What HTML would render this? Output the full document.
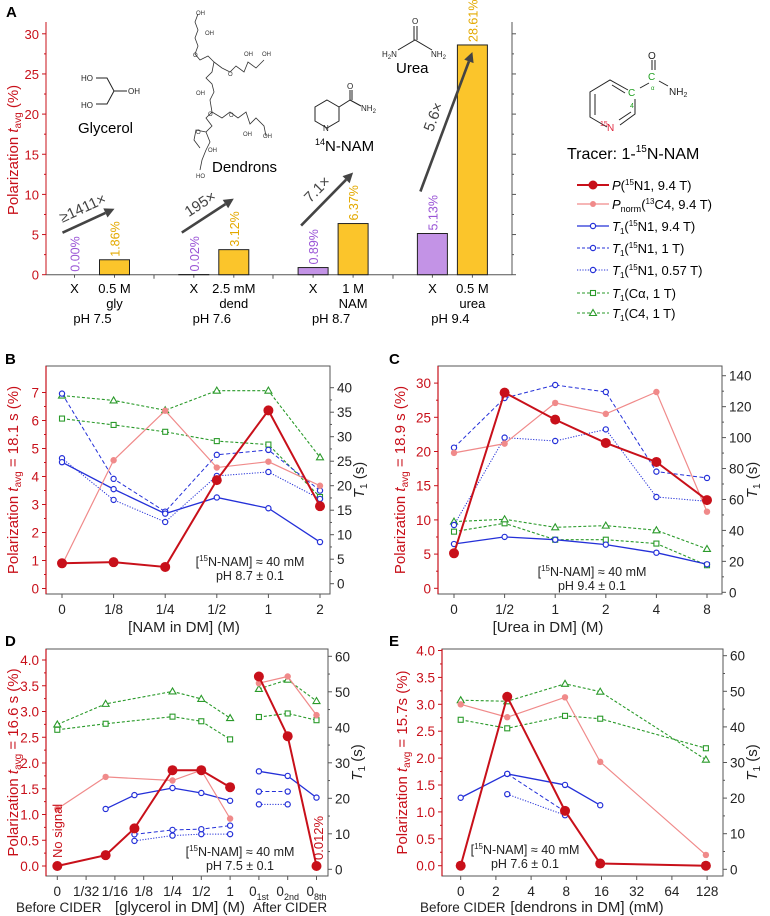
<!DOCTYPE html>
<html><head><meta charset="utf-8">
<style>
html,body{margin:0;padding:0;background:#fff;}
svg{display:block;font-family:"Liberation Sans",Arial,sans-serif;}
</style></head>
<body>
<svg id="fig" width="770" height="916" viewBox="0 0 770 916" xmlns="http://www.w3.org/2000/svg">
<!-- panel letters -->
<text x="6" y="17" font-size="15" font-weight="bold">A</text>
<text x="5" y="364" font-size="15" font-weight="bold">B</text>
<text x="389" y="364" font-size="15" font-weight="bold">C</text>
<text x="5" y="646" font-size="15" font-weight="bold">D</text>
<text x="389" y="646" font-size="15" font-weight="bold">E</text>

<!-- glycerol -->
<g stroke="#222" stroke-width="1" fill="none">
<polyline points="96,78 107,78 114,91 127,91"/><polyline points="114,91 107,104 96,104"/>
</g>
<g font-size="8" fill="#222">
<text x="81" y="81">HO</text><text x="128" y="94">OH</text><text x="81" y="108">HO</text></g>
<text x="78" y="133" font-size="15">Glycerol</text>

<!-- dendrons (simplified) -->
<g stroke="#333" stroke-width="0.8" fill="none">
<polyline points="198,14 195,22 198,30 195,38 198,46 195,54 200,60 208,56 214,62 212,72 206,78 212,84 214,92 210,100 212,112 206,118 212,126 206,132 210,142 206,150 202,160 200,170"/>
<polyline points="214,62 222,68 230,72 236,66 244,72 248,62 256,68 264,60"/>
<polyline points="212,112 222,118 230,112 238,118 246,112 250,124 256,118 264,126 266,136"/>
<polyline points="206,132 196,130 194,140 200,148"/>
</g>
<g font-size="6" fill="#333">
<text x="196" y="15">OH</text><text x="205" y="35">OH</text><text x="193" y="57">O</text><text x="228" y="76">O</text>
<text x="244" y="56">OH</text><text x="262" y="56">OH</text><text x="196" y="95">OH</text><text x="208" y="116">O</text>
<text x="229" y="117">O</text><text x="243" y="136">OH</text><text x="263" y="138">OH</text><text x="196" y="134">O</text>
<text x="208" y="152">OH</text><text x="196" y="178">HO</text></g>
<text x="212" y="172" font-size="15">Dendrons</text>

<!-- 14N-NAM -->
<g stroke="#222" stroke-width="1" fill="none">
<polygon points="327,100 339,107 339,121 327,128 315,121 315,107"/>
<polyline points="339,107 350,100 350,90"/><line x1="352" y1="100" x2="352" y2="90"/><line x1="350" y1="100" x2="361" y2="106"/>
</g>
<g font-size="8" fill="#222"><text x="347" y="89">O</text><text x="361" y="111">NH<tspan font-size="6" dy="2">2</tspan></text><text x="323" y="131" fill="#222">N</text></g>
<text x="315" y="151" font-size="15"><tspan font-size="9" dy="-6">14</tspan><tspan dy="6">N-NAM</tspan></text>

<!-- urea -->
<g stroke="#222" stroke-width="1" fill="none">
<line x1="414" y1="26" x2="414" y2="40"/><line x1="417" y1="26" x2="417" y2="40"/>
<polyline points="398,50 415,40 432,50"/></g>
<g font-size="8" fill="#222"><text x="412" y="24">O</text><text x="382" y="57">H<tspan font-size="6" dy="2">2</tspan><tspan dy="-2">N</tspan></text><text x="431" y="57">NH<tspan font-size="6" dy="2">2</tspan></text></g>
<text x="396" y="73" font-size="15">Urea</text>

<!-- tracer molecule -->
<g stroke="#222" stroke-width="1" fill="none">
<polyline points="607,127 590,117 590,92 610,80 628,90"/>
<line x1="595" y1="115" x2="595" y2="94"/><line x1="612" y1="85" x2="625" y2="93"/>
<polyline points="635,99 635,114 620,125"/><line x1="631" y1="112" x2="619" y2="120"/>
<line x1="640" y1="88" x2="649" y2="83"/><line x1="652" y1="70" x2="652" y2="60"/><line x1="655" y1="70" x2="655" y2="60"/>
<line x1="659" y1="81" x2="668" y2="86"/></g>
<g font-size="10">
<text x="648" y="59" fill="#222">O</text><text x="648" y="80" fill="#22a022">C</text><text x="651" y="90" font-size="6" fill="#22a022">α</text>
<text x="628" y="96" fill="#22a022">C</text><text x="630" y="108" font-size="7" fill="#22a022">4</text>
<text x="669" y="95" fill="#222">NH<tspan font-size="7" dy="2">2</tspan></text>
<text x="600" y="126" font-size="7" fill="#e0243c">15</text><text x="607" y="131" fill="#e0243c">N</text></g>
<text x="567" y="159" font-size="16">Tracer: 1-<tspan font-size="10" dy="-7">15</tspan><tspan dy="7">N-NAM</tspan></text>

<!-- legend -->
<g font-size="13">
<g><line x1="577" y1="185" x2="609" y2="185" stroke="#c8101a" stroke-width="2"/><circle cx="593" cy="185" r="4.5" fill="#c8101a"/><text x="612" y="190"><tspan font-style="italic">P</tspan>(<tspan font-size="8" dy="-5">15</tspan><tspan dy="5">N1, 9.4 T)</tspan></text></g>
<g><line x1="577" y1="204" x2="609" y2="204" stroke="#f08a8a" stroke-width="1.3"/><circle cx="593" cy="204" r="3" fill="#f08a8a"/><text x="612" y="209"><tspan font-style="italic">P</tspan><tspan font-size="9" dy="3">norm</tspan><tspan dy="-3">(</tspan><tspan font-size="8" dy="-5">13</tspan><tspan dy="5">C4, 9.4 T)</tspan></text></g>
<g><line x1="577" y1="226" x2="609" y2="226" stroke="#2430d8" stroke-width="1.3"/><circle cx="593" cy="226" r="2.6" fill="#fff" stroke="#2430d8" stroke-width="1.2"/><text x="612" y="231"><tspan font-style="italic">T</tspan><tspan font-size="8" dy="3">1</tspan><tspan dy="-3">(</tspan><tspan font-size="8" dy="-5">15</tspan><tspan dy="5">N1, 9.4 T)</tspan></text></g>
<g><line x1="577" y1="248" x2="609" y2="248" stroke="#2430d8" stroke-width="1.1" stroke-dasharray="3,2"/><circle cx="593" cy="248" r="2.6" fill="#fff" stroke="#2430d8" stroke-width="1.2"/><text x="612" y="253"><tspan font-style="italic">T</tspan><tspan font-size="8" dy="3">1</tspan><tspan dy="-3">(</tspan><tspan font-size="8" dy="-5">15</tspan><tspan dy="5">N1, 1 T)</tspan></text></g>
<g><line x1="577" y1="270" x2="609" y2="270" stroke="#2430d8" stroke-width="1.1" stroke-dasharray="1.2,1.5"/><circle cx="593" cy="270" r="2.6" fill="#fff" stroke="#2430d8" stroke-width="1.2"/><text x="612" y="275"><tspan font-style="italic">T</tspan><tspan font-size="8" dy="3">1</tspan><tspan dy="-3">(</tspan><tspan font-size="8" dy="-5">15</tspan><tspan dy="5">N1, 0.57 T)</tspan></text></g>
<g><line x1="577" y1="293" x2="609" y2="293" stroke="#2a9a2a" stroke-width="1.1" stroke-dasharray="3,2"/><rect x="590.5" y="290.5" width="5" height="5" fill="#fff" stroke="#2a9a2a" stroke-width="1.1"/><text x="612" y="298"><tspan font-style="italic">T</tspan><tspan font-size="8" dy="3">1</tspan><tspan dy="-3">(Cα, 1 T)</tspan></text></g>
<g><line x1="577" y1="313" x2="609" y2="313" stroke="#2a9a2a" stroke-width="1.1" stroke-dasharray="3,2"/><polygon points="593,309.5 596.5,315.5 589.5,315.5" fill="#fff" stroke="#2a9a2a" stroke-width="1.1"/><text x="612" y="318"><tspan font-style="italic">T</tspan><tspan font-size="8" dy="3">1</tspan><tspan dy="-3">(C4, 1 T)</tspan></text></g>
</g>
<g id="dyn"></g>
</svg>
<script>
// ---------- Panel A data ----------
const aGroups = ['gly','dend','NAM','urea'];
const aConc = ['0.5 M','2.5 mM','1 M','0.5 M'];
const aPH = ['pH 7.5','pH 7.6','pH 8.7','pH 9.4'];
const aCtrl = [0.00, 0.02, 0.89, 5.13];
const aAdd = [1.86, 3.12, 6.37, 28.61];
const aFold = ['≥1411×','195×','7.1×','5.6×'];
const aTicks = [0,5,10,15,20,25,30];

// ---------- Panel B data ----------
const bCats = ['0','1/8','1/4','1/2','1','2'];
const bP    = [0.90, 0.94, 0.77, 3.87, 6.36, 2.94];
const bPn   = [0.84, 4.58, 6.35, 4.32, 4.53, 3.67];
const bT94  = [24.8, 19.3, 14.3, 17.6, 15.4, 8.5];
const bT1   = [38.8, 21.4, 14.7, 26.3, 27.3, 19.0];
const bT057 = [25.6, 17.1, 12.6, 22.0, 22.8, 17.3];
const bCa   = [33.7, 32.4, 31.0, 29.1, 28.4, 17.7];
const bC4   = [38.4, 37.4, 35.4, 39.4, 39.4, 25.8];
const bLTicks = [0,1,2,3,4,5,6,7];
const bRTicks = [0,5,10,15,20,25,30,35,40];

// ---------- Panel C data ----------
const cCats = ['0','1/2','1','2','4','8'];
const cP    = [5.12, 28.61, 24.66, 21.25, 18.47, 12.9];
const cPn   = [19.8, 21.15, 27.1, 25.5, 28.7, 11.2];
const cT94  = [31.2, 35.8, 34.0, 30.8, 25.6, 18.1];
const cT1   = [93.5, 125.6, 134.0, 129.5, 78.0, 73.9];
const cT057 = [43.5, 100.0, 97.8, 105.3, 61.6, 58.8];
const cCa   = [39.2, 44.6, 34.0, 34.0, 31.5, 17.5];
const cC4   = [45.7, 47.2, 42.0, 43.1, 40.1, 28.0];
const cLTicks = [0,5,10,15,20,25,30];
const cRTicks = [0,20,40,60,80,100,120,140];

// ---------- Panel D data ----------
const dTickLabels = ['0','1/32','1/16','1/8','1/4','1/2','1','0|1st','0|2nd','0|8th'];
const dX    = [0, 0.05, 0.1, 0.25, 0.5, 1, 'a1', 'a2', 'a8'];
const dP    = [0.0, 0.21, 0.73, 1.86, 1.86, 1.53, 3.68, 2.52, 0.0];
const dPn   = [1.11, 1.73, null, 1.66, 1.86, 0.92, 3.55, 3.68, 2.93];
const dT94  = [null, 17.0, 20.9, 22.9, 21.5, 19.3, 27.6, 26.3, 20.2];
const dT1   = [null, null, 9.85, 11.1, 11.3, 12.3, 21.9, 21.9, null];
const dT057 = [null, null, 8.0, 9.5, 9.9, 9.9, 18.3, 18.3, null];
const dCa   = [39.3, 41.0, null, 43.0, 41.7, 36.6, 42.9, 43.9, 42.0];
const dC4   = [40.8, 46.6, null, 50.1, 48.0, 42.6, 50.8, 53.4, 47.4];
const dLTicks = [0,0.5,1,1.5,2,2.5,3,3.5,4];
const dRTicks = [0,10,20,30,40,50,60];

// ---------- Panel E data ----------
const eTickVals = [0,2,4,8,16,32,64,128];
const eX    = [0, 2.5, 7.8, 15.6, 125];
const eP    = [0.0, 3.14, 1.02, 0.04, 0.0];
const ePn   = [3.0, 2.76, 3.13, 1.93, 0.2];
const eT94  = [20.1, 26.8, 23.7, 18.0, null];
const eT1   = [null, 26.8, 16.2, null, null];
const eT057 = [null, 21.1, 15.2, null, null];
const eCa   = [42.0, 39.6, 43.1, 42.3, 34.0];
const eC4   = [47.5, 47.2, 52.1, 49.9, 30.8];
const eLTicks = [0,0.5,1,1.5,2,2.5,3,3.5,4];
const eRTicks = [0,10,20,30,40,50,60];

const NS = 'http://www.w3.org/2000/svg';
const root = document.getElementById('dyn');
function mk(tag, attrs, parent, name){
  const el = document.createElementNS(NS, tag);
  for (const k in attrs) el.setAttribute(k, attrs[k]);
  
  
  (parent || root).appendChild(el);
  return el;
}
const RED='#c8101a', PINK='#f08a8a', BLUE='#2430d8', GREEN='#2a9a2a', AX='#555';

// ================= Panel A =================
(function(){
  const g = mk('g', {}, root, 'panel-a');
  const X0=46, X1=512, Y0=274.7, S=8.03, TOP=22;
  const yS = v => Y0 - v*S;
  const gc = i => 94.5 + 119.3*i;
  mk('line',{x1:X0,y1:TOP,x2:X0,y2:Y0,stroke:RED,'stroke-width':1},g,'a-y-axis');
  mk('line',{x1:X1,y1:TOP,x2:X1,y2:Y0,stroke:AX,'stroke-width':1},g,'a-right-axis');
  mk('line',{x1:X0,y1:Y0,x2:X1,y2:Y0,stroke:AX,'stroke-width':1},g,'a-x-axis');
  aTicks.forEach(t=>{
    mk('line',{x1:X0-4,y1:yS(t),x2:X0,y2:yS(t),stroke:RED},g,'a-y-tick');
    mk('line',{x1:X1,y1:yS(t),x2:X1+4,y2:yS(t),stroke:AX},g,'a-right-tick');
    if(t<30){
      mk('line',{x1:X0-2,y1:yS(t+2.5),x2:X0,y2:yS(t+2.5),stroke:RED},g,'a-y-minor-tick');
      mk('line',{x1:X1,y1:yS(t+2.5),x2:X1+2,y2:yS(t+2.5),stroke:AX},g,'a-right-minor-tick');
    }
    const tx = mk('text',{x:X0-7,y:yS(t)+5,'text-anchor':'end','font-size':13,fill:RED},g,'a-y-tick-label');
    tx.textContent = t;
  });
  [154,273,393].forEach(x=>{ mk('line',{x1:x,y1:Y0,x2:x,y2:Y0+4,stroke:AX},g,'a-group-separator'); });
  const yt = mk('text',{transform:'translate(18,150) rotate(-90)','text-anchor':'middle','font-size':15,fill:RED},g,'a-y-axis-title');
  yt.innerHTML = 'Polarization <tspan font-style="italic">t</tspan><tspan font-size="10" dy="3">avg</tspan><tspan dy="-3"> (%)</tspan>';
  aGroups.forEach((grp,i)=>{
    const cx = gc(i)-20, ax = gc(i)+20;
    mk('line',{x1:cx,y1:Y0,x2:cx,y2:Y0+3,stroke:AX},g,'a-tick');
    mk('line',{x1:ax,y1:Y0,x2:ax,y2:Y0+3,stroke:AX},g,'a-tick');
    const b1 = mk('rect',{x:cx-15,y:yS(aCtrl[i]),width:30,height:aCtrl[i]*S,fill:'#c393e6',stroke:'#222','stroke-width':1},g,'bar-control-'+grp);
    const b2 = mk('rect',{x:ax-15,y:yS(aAdd[i]),width:30,height:aAdd[i]*S,fill:'#fbc52b',stroke:'#222','stroke-width':1},g,'bar-additive-'+grp);
    const l1 = mk('text',{transform:`translate(${cx+5},${yS(aCtrl[i])-3}) rotate(-90)`,'font-size':12.5,fill:'#9a55d6'},g,'control-value-label');
    l1.textContent = aCtrl[i].toFixed(2)+'%';
    const l2 = mk('text',{transform:`translate(${ax+5},${yS(aAdd[i])-3}) rotate(-90)`,'font-size':12.5,fill:'#e3a900'},g,'additive-value-label');
    l2.textContent = aAdd[i].toFixed(2)+'%';
    const xl = mk('text',{x:cx,y:293,'text-anchor':'middle','font-size':13},g,'a-x-label-control');
    xl.textContent = 'X';
    const cl = mk('text',{x:ax,y:293,'text-anchor':'middle','font-size':13},g,'a-x-label-concentration');
    cl.textContent = aConc[i];
    const nl = mk('text',{x:ax,y:308,'text-anchor':'middle','font-size':13},g,'a-x-label-additive');
    nl.textContent = grp;
    const pl = mk('text',{x:gc(i)-2,y:323,'text-anchor':'middle','font-size':13},g,'a-x-label-ph');
    pl.textContent = aPH[i];
    // arrow
    const sx = cx-12, sy = yS(aCtrl[i])-42;
    const ex = ax, ey = Math.max(yS(aAdd[i])-51, 52);
    const ang = Math.atan2(ey-sy, ex-sx);
    const hx = ex-10*Math.cos(ang), hy = ey-10*Math.sin(ang);
    mk('line',{x1:sx,y1:sy,x2:hx,y2:hy,stroke:'#444','stroke-width':2.6},g,'fold-arrow-'+grp);
    const px = -Math.sin(ang), py = Math.cos(ang);
    mk('polygon',{points:`${ex},${ey} ${hx+5*px},${hy+5*py} ${hx-5*px},${hy-5*py}`,fill:'#444'},g,'fold-arrowhead');
    const mx=(sx+ex)/2+9*Math.sin(ang), my=(sy+ey)/2-9*Math.cos(ang);
    const fl = mk('text',{transform:`translate(${mx},${my}) rotate(${ang*180/Math.PI})`,'text-anchor':'middle','font-size':15,fill:'#444'},g,'fold-label-'+grp);
    fl.textContent = aFold[i];
  });
})();

// ================= generic line panel =================
function panel(cfg){
  const g = mk('g', {}, root, cfg.name);
  const {x0,x1,top,bot,L,R} = cfg;
  const yL = v => L.y0 - v*L.s, yR = v => R.y0 - v*R.s;
  mk('rect',{x:x0,y:top,width:x1-x0,height:bot-top,fill:'none',stroke:AX,'stroke-width':1},g,'plot-frame');
  mk('line',{x1:x0,y1:top,x2:x0,y2:bot,stroke:RED,'stroke-width':1.2},g,'left-y-axis');
  L.ticks.forEach((t,k)=>{
    mk('line',{x1:x0-4,y1:yL(t),x2:x0,y2:yL(t),stroke:RED},g,'left-y-tick');
    if(k<L.ticks.length-1){const m=(t+L.ticks[k+1])/2; mk('line',{x1:x0-2,y1:yL(m),x2:x0,y2:yL(m),stroke:RED},g,'left-y-minor-tick');}
    const tx = mk('text',{x:x0-7,y:yL(t)+5,'text-anchor':'end','font-size':13.5,fill:RED},g,'left-y-tick-label');
    tx.textContent = L.fmt ? L.fmt(t) : t;
  });
  R.ticks.forEach((t,k)=>{
    mk('line',{x1:x1,y1:yR(t),x2:x1+4,y2:yR(t),stroke:AX},g,'right-y-tick');
    if(k<R.ticks.length-1){const m=(t+R.ticks[k+1])/2; mk('line',{x1:x1,y1:yR(m),x2:x1+2,y2:yR(m),stroke:AX},g,'right-y-minor-tick');}
    const tx = mk('text',{x:x1+7,y:yR(t)+5,'font-size':13.5,fill:'#222'},g,'right-y-tick-label');
    tx.textContent = t;
  });
  cfg.xTicks.forEach(tk=>{
    const x = cfg.xTickPos(tk.i);
    mk('line',{x1:x,y1:bot,x2:x,y2:bot+4,stroke:AX},g,'x-tick');
    const tx = mk('text',{x:x,y:bot+20,'text-anchor':'middle','font-size':13.5,fill:'#222'},g,'x-tick-label');
    const parts = String(tk.label).split('|');
    if(parts.length>1) tx.innerHTML = parts[0]+'<tspan font-size="9" dy="4">'+parts[1]+'</tspan>';
    else tx.textContent = tk.label;
  });
  const lt = mk('text',{transform:`translate(${cfg.ltx},${(top+bot)/2}) rotate(-90)`,'text-anchor':'middle','font-size':15,fill:RED},g,'left-y-axis-title');
  lt.innerHTML = 'Polarization <tspan font-style="italic">t</tspan><tspan font-size="10" dy="3">avg</tspan><tspan dy="-3"> = '+cfg.tavg+' (%)</tspan>';
  const rt = mk('text',{transform:`translate(${cfg.rtx},${(top+bot)/2}) rotate(-90)`,'text-anchor':'middle','font-size':15,fill:'#222'},g,'right-y-axis-title');
  rt.innerHTML = '<tspan font-style="italic">T</tspan><tspan font-size="10" dy="3">1</tspan><tspan dy="-3"> (s)</tspan>';
  cfg.xTitles.forEach(t=>{
    const tx = mk('text',{x:t.x,y:t.y,'text-anchor':t.a||'middle','font-size':t.fs||15,fill:'#222'},g,t.name);
    tx.textContent = t.text;
  });
  const a1 = mk('text',{x:cfg.note.x,y:cfg.note.y,'text-anchor':'middle','font-size':12.5,fill:'#222'},g,'concentration-note');
  a1.innerHTML = '[<tspan font-size="8" dy="-5">15</tspan><tspan dy="5">N-NAM] ≈ 40 mM</tspan>';
  const a2 = mk('text',{x:cfg.note.x,y:cfg.note.y+14,'text-anchor':'middle','font-size':12.5,fill:'#222'},g,'ph-note');
  a2.textContent = cfg.note.ph;

  const xs = cfg.xFn;
  function series(vals, yf, style, name){
    const sg = mk('g',{},g,name);
    let pts = [];
    const segs = [];
    vals.forEach((v,i)=>{
      if(cfg.breaks && cfg.breaks.includes(i)){ if(pts.length) segs.push(pts); pts=[]; }
      if(v===null) return;
      pts.push([xs(cfg.x[i]), yf(v)]);
    });
    if(pts.length) segs.push(pts);
    segs.forEach(s=>{
      if(s.length>1){
        const pl = mk('polyline',{points:s.map(p=>p.join(',')).join(' '),fill:'none',stroke:style.c,'stroke-width':style.w,'stroke-dasharray':style.d||'none'},sg,name+'-line');
      }
      s.forEach(p=>{
        if(style.m==='dot') mk('circle',{cx:p[0],cy:p[1],r:style.r,fill:style.c},sg,name+'-point');
        else if(style.m==='circ') mk('circle',{cx:p[0],cy:p[1],r:2.6,fill:'#fff',stroke:style.c,'stroke-width':1.2},sg,name+'-point');
        else if(style.m==='sq') mk('rect',{x:p[0]-2.5,y:p[1]-2.5,width:5,height:5,fill:'#fff',stroke:style.c,'stroke-width':1.1},sg,name+'-point');
        else if(style.m==='tri') mk('polygon',{points:`${p[0]},${p[1]-3.5} ${p[0]+3.5},${p[1]+2.5} ${p[0]-3.5},${p[1]+2.5}`,fill:'#fff',stroke:style.c,'stroke-width':1.1},sg,name+'-point');
      });
    });
  }
  const S = cfg.s;
  series(S.Ca, yR, {c:GREEN,w:1.1,d:'3,2',m:'sq'}, 't1-calpha-series');
  series(S.C4, yR, {c:GREEN,w:1.1,d:'3,2',m:'tri'}, 't1-c4-series');
  series(S.T057, yR, {c:BLUE,w:1,d:'1.2,1.5',m:'circ'}, 't1-15n1-0.57t-series');
  series(S.T1, yR, {c:BLUE,w:1,d:'4,2.5',m:'circ'}, 't1-15n1-1t-series');
  series(S.T94, yR, {c:BLUE,w:1.3,m:'circ'}, 't1-15n1-9.4t-series');
  series(S.Pn, yL, {c:PINK,w:1.2,m:'dot',r:3.2}, 'pnorm-13c4-series');
  series(S.P, yL, {c:RED,w:2,m:'dot',r:5}, 'p-15n1-series');
  return g;
}

// Panel B
panel({name:'panel-b',x0:46,x1:330,top:366,bot:594,
  L:{y0:588.5,s:28.0,ticks:bLTicks}, R:{y0:583.7,s:4.9,ticks:bRTicks},
  x:bCats.map((c,i)=>i), xFn:i=>62+51.6*i, xTickPos:i=>62+51.6*i,
  xTicks:bCats.map((c,i)=>({i:i,label:c})),
  ltx:18, rtx:364, tavg:'18.1 s',
  xTitles:[{x:184,y:632,text:'[NAM in DM] (M)',name:'x-axis-title'}],
  note:{x:250,y:566,ph:'pH 8.7 ± 0.1'},
  s:{P:bP,Pn:bPn,T94:bT94,T1:bT1,T057:bT057,Ca:bCa,C4:bC4}});

// Panel C
panel({name:'panel-c',x0:438,x1:722,top:366,bot:594,
  L:{y0:588.3,s:6.84,ticks:cLTicks}, R:{y0:592.3,s:1.547,ticks:cRTicks},
  x:cCats.map((c,i)=>i), xFn:i=>454+50.6*i, xTickPos:i=>454+50.6*i,
  xTicks:cCats.map((c,i)=>({i:i,label:c})),
  ltx:405, rtx:757, tavg:'18.9 s',
  xTitles:[{x:548,y:632,text:'[Urea in DM] (M)',name:'x-axis-title'}],
  note:{x:592,y:576,ph:'pH 9.4 ± 0.1'},
  s:{P:cP,Pn:cPn,T94:cT94,T1:cT1,T057:cT057,Ca:cCa,C4:cC4}});

// Panel D
const dIdx = v => (v==='a1'?7:v==='a2'?8:v==='a8'?9:(v===0?0:Math.log2(v)+6));
const gD = panel({name:'panel-d',x0:46,x1:328,top:649,bot:876,
  L:{y0:866,s:51.5,ticks:dLTicks,fmt:t=>t.toFixed(1)}, R:{y0:869.3,s:3.55,ticks:dRTicks},
  x:dX, breaks:[6], xFn:v=>57.3+28.8*dIdx(v), xTickPos:i=>57.3+28.8*i,
  xTicks:dTickLabels.map((c,i)=>({i:i,label:c})),
  ltx:18, rtx:362, tavg:'16.6 s',
  xTitles:[{x:16,y:912,text:'Before CIDER',a:'start',fs:13.5,name:'before-cider-label'},
           {x:180,y:912,text:'[glycerol in DM] (M)',name:'x-axis-title'},
           {x:290,y:912,text:'After CIDER',fs:13.5,name:'after-cider-label'}],
  note:{x:240,y:856,ph:'pH 7.5 ± 0.1'},
  s:{P:dP,Pn:dPn,T94:dT94,T1:dT1,T057:dT057,Ca:dCa,C4:dC4}});
(function(){
  const t1 = mk('text',{transform:'translate(62,858) rotate(-90)','font-size':13,fill:RED},gD,'no-signal-note');
  t1.textContent = 'No signal';
  const t2 = mk('text',{transform:'translate(323,860) rotate(-90)','font-size':13,fill:RED},gD,'residual-polarization-note');
  t2.textContent = '0.012%';
})();

// Panel E
const eIdx = v => (v===0?0:Math.log2(v));
panel({name:'panel-e',x0:442,x1:723,top:649,bot:876,
  L:{y0:865.7,s:53.8,ticks:eLTicks,fmt:t=>t.toFixed(1)}, R:{y0:869.3,s:3.56,ticks:eRTicks},
  x:eX, xFn:v=>460.7+35.2*eIdx(v), xTickPos:i=>460.7+35.2*i,
  xTicks:eTickVals.map((c,i)=>({i:i,label:String(c)})),
  ltx:407, rtx:757, tavg:'15.7s',
  xTitles:[{x:420,y:912,text:'Before CIDER',a:'start',fs:13.5,name:'before-cider-label'},
           {x:587,y:912,text:'[dendrons in DM] (mM)',name:'x-axis-title'}],
  note:{x:525,y:854,ph:'pH 7.6 ± 0.1'},
  s:{P:eP,Pn:ePn,T94:eT94,T1:eT1,T057:eT057,Ca:eCa,C4:eC4}});
</script>
</body></html>
